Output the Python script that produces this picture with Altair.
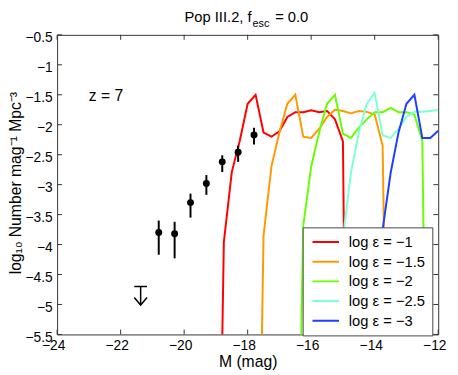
import altair as alt
import pandas as pd

# ---------------- data ----------------
series_labels = ["log ε = −1", "log ε = −1.5", "log ε = −2", "log ε = −2.5", "log ε = −3"]
series_colors = ["#ff0000", "#ff9900", "#66ff00", "#7fffd4", "#1f3fff"]

m_e1 = [-19.0, -18.75, -18.5, -18.25, -18.0, -17.75, -17.5, -17.25, -17.0, -16.75, -16.5,
        -16.25, -16.0, -15.75, -15.5, -15.25, -15.0, -14.75]
v_e1 = [-12.0, -3.96, -2.79, -2.27, -1.65, -1.50, -2.13, -2.20, -2.11, -1.87, -1.79,
        -1.79, -1.76, -1.79, -1.77, -1.91, -2.28, -15.5]

m_e15 = [-17.75, -17.5, -17.25, -17.0, -16.75, -16.5, -16.25, -16.0, -15.75, -15.5, -15.25,
         -15.0, -14.75, -14.5, -14.25, -14.0, -13.75, -13.5]
v_e15 = [-12.0, -3.85, -2.69, -2.13, -1.65, -1.50, -2.20, -2.22, -2.07, -1.87, -1.75,
         -1.77, -1.81, -1.77, -1.785, -1.83, -2.35, -11.0]

m_e2 = [-16.5, -16.25, -16.0, -15.75, -15.5, -15.25, -15.0, -14.75, -14.5, -14.25, -14.0,
        -13.75, -13.5, -13.25, -13.0, -12.75, -12.5, -12.25]
v_e2 = [-11.0, -3.69, -2.70, -2.13, -1.65, -1.50, -2.15, -2.22, -2.05, -1.91, -1.79,
        -1.79, -1.72, -1.79, -1.79, -1.83, -2.27, -12.3]

m_e25 = [-15.25, -15.0, -14.75, -14.5, -14.25, -14.0, -13.75, -13.5, -13.25, -13.0, -12.75,
         -12.5, -12.25, -12.0]
v_e25 = [-14.0, -3.90, -2.81, -2.13, -1.65, -1.47, -2.18, -2.22, -2.07, -1.87, -1.785,
         -1.785, -1.77, -1.755]

m_e3 = [-14.0, -13.75, -13.5, -13.25, -13.0, -12.75, -12.5, -12.25, -12.0]
v_e3 = [-13.0, -3.75, -2.81, -2.13, -1.65, -1.50, -2.22, -2.22, -2.10]

obs_m = [-20.8, -20.3, -19.8, -19.3, -18.8, -18.3, -17.8]
obs_v = [-3.80, -3.82, -3.30, -2.98, -2.62, -2.46, -2.17]
obs_lo = [-4.17, -4.23, -3.55, -3.17, -2.79, -2.62, -2.33]
obs_hi = [-3.60, -3.62, -3.15, -2.84, -2.51, -2.35, -2.05]

lim_m = [-21.37]
lim_v = [-4.70]
lim_tip = [-5.01]
lim_cap_lo = [-21.57]
lim_cap_hi = [-21.17]

x_ticks = [-24, -22, -20, -18, -16, -14, -12]
y_ticks = [-5.5, -5.0, -4.5, -4.0, -3.5, -3.0, -2.5, -2.0, -1.5, -1.0, -0.5]

# ---------------- tables ----------------
rows = []
for lab, ms, vs in zip(series_labels, [m_e1, m_e15, m_e2, m_e25, m_e3],
                       [v_e1, v_e15, v_e2, v_e25, v_e3]):
    for m, v in zip(ms, vs):
        rows.append({"M": m, "phi": v, "series": lab})
curves = pd.DataFrame(rows)
obs = pd.DataFrame({"M": obs_m, "phi": obs_v, "lo": obs_lo, "hi": obs_hi})
lim = pd.DataFrame({"M": lim_m, "phi": lim_v, "tip": lim_tip, "c1": lim_cap_lo, "c2": lim_cap_hi})
xt = pd.DataFrame({"t": x_ticks})
yt = pd.DataFrame({"t": y_ticks})

W, H = 388, 305
FONT = "Liberation Sans"
FRAME = "#333333"
lab_expr = "replace(toString(datum.value), '-', '−')"

xscale = alt.Scale(domain=[-24, -12], nice=False, zero=False)
yscale = alt.Scale(domain=[-5.5, -0.5], nice=False, zero=False)

# x axis group shifted 4px left/up (labels sit slightly left of their ticks, as in the reference)
xaxis = alt.Axis(values=x_ticks, ticks=False, tickSize=0, domain=False, grid=False,
                 translate=-3.5,
                 labelFontSize=14, labelColor="black", labelPadding=8, labelExpr=lab_expr,
                 labelFlush=False, labelOverlap=False, labelSeparation=0,
                 title="M (mag)", titleFontSize=16, titleFontWeight="normal", titleColor="black",
                 titleX=W / 2 + 4, titleY=37, titleAlign="center", titleBaseline="alphabetic")
# y axis group shifted 3px right/down (labels sit slightly below their ticks)
yaxis = alt.Axis(values=y_ticks, ticks=False, tickSize=0, domain=False, grid=False,
                 translate=3.5,
                 labelFontSize=14, labelColor="black", labelPadding=8, labelExpr=lab_expr,
                 labelFlush=False, labelOverlap=False, labelSeparation=0,
                 title="log₁₀ Number mag⁻¹ Mpc⁻³", titleFontSize=16, titleFontWeight="normal",
                 titleColor="black", titleAngle=270, titleX=-40, titleY=H / 2 - 5,
                 titleAlign="center", titleBaseline="alphabetic")


def X(field):
    return alt.X(field, scale=xscale, axis=xaxis)


def Y(field):
    return alt.Y(field, scale=yscale, axis=yaxis)


lines = alt.Chart(curves).mark_line(strokeWidth=2, clip=True).encode(
    x=X("M:Q"),
    y=Y("phi:Q"),
    color=alt.Color("series:N",
                    scale=alt.Scale(domain=series_labels, range=series_colors),
                    sort=series_labels,
                    legend=alt.Legend(title=None, orient="none", legendX=250, legendY=196,
                                      symbolType="stroke", symbolSize=729, symbolStrokeWidth=2,
                                      symbolOffset=2, labelOffset=9, clipHeight=16, rowPadding=4,
                                      padding=7, labelFontSize=15, labelColor="black",
                                      fillColor="white", strokeColor="#444")),
)

bars = alt.Chart(obs).mark_rule(color="black", strokeWidth=2).encode(
    x=X("M:Q"), y=Y("lo:Q"), y2="hi:Q")
dots = alt.Chart(obs).mark_point(filled=True, color="black", size=50, opacity=1).encode(
    x=X("M:Q"), y=Y("phi:Q"))

lim_stem = alt.Chart(lim).mark_rule(color="black", strokeWidth=1.5).encode(
    x=X("M:Q"), y=Y("phi:Q"), y2="tip:Q")
lim_cap = alt.Chart(lim).mark_rule(color="black", strokeWidth=1.5).encode(
    x=X("c1:Q"), x2="c2:Q", y=Y("phi:Q"))
lim_head = alt.Chart(lim).mark_point(shape="M -1 -1.2 L 0 0 L 1 -1.2", filled=False,
                                     color="black", strokeWidth=1.5, size=169, opacity=1).encode(
    x=X("M:Q"), y=Y("tip:Q"))

tick_b = alt.Chart(xt).mark_rule(color=FRAME, strokeWidth=1).encode(
    x=X("t:Q"), y=alt.value(H), y2=alt.value(H - 5))
tick_t = alt.Chart(xt).mark_rule(color=FRAME, strokeWidth=1).encode(
    x=X("t:Q"), y=alt.value(0), y2=alt.value(5))
tick_l = alt.Chart(yt).mark_rule(color=FRAME, strokeWidth=1).encode(
    y=Y("t:Q"), x=alt.value(0), x2=alt.value(5))
tick_r = alt.Chart(yt).mark_rule(color=FRAME, strokeWidth=1).encode(
    y=Y("t:Q"), x=alt.value(W), x2=alt.value(W - 5))

ztext = alt.Chart().mark_text(text="z = 7", fontSize=16, align="left", baseline="alphabetic",
                              font=FONT, color="black").encode(
    x=alt.XDatum(-23.0, scale=xscale, axis=xaxis),
    y=alt.YDatum(-1.6, scale=yscale, axis=yaxis))

t1 = alt.Chart().mark_text(text="Pop III.2, f", fontSize=15, align="right",
                           baseline="alphabetic", font=FONT, color="black").encode(
    x=alt.value(198), y=alt.value(-13))
t2 = alt.Chart().mark_text(text="esc", fontSize=11, align="left",
                           baseline="alphabetic", font=FONT, color="black").encode(
    x=alt.value(199), y=alt.value(-7.5))
t3 = alt.Chart().mark_text(text="= 0.0", fontSize=15, align="left",
                           baseline="alphabetic", font=FONT, color="black").encode(
    x=alt.value(222), y=alt.value(-13))

chart = alt.layer(
    lines, bars, dots, lim_stem, lim_cap, lim_head,
    tick_b, tick_t, tick_l, tick_r, ztext, t1, t2, t3
).properties(
    width=W, height=H,
    autosize=alt.AutoSizeParams(type="none"),
    padding={"left": 50, "top": 24, "right": 12, "bottom": 40},
).configure(font=FONT).configure_view(stroke=FRAME, strokeWidth=1)

chart.save("out.html", embed_options={"renderer": "svg", "actions": False})
